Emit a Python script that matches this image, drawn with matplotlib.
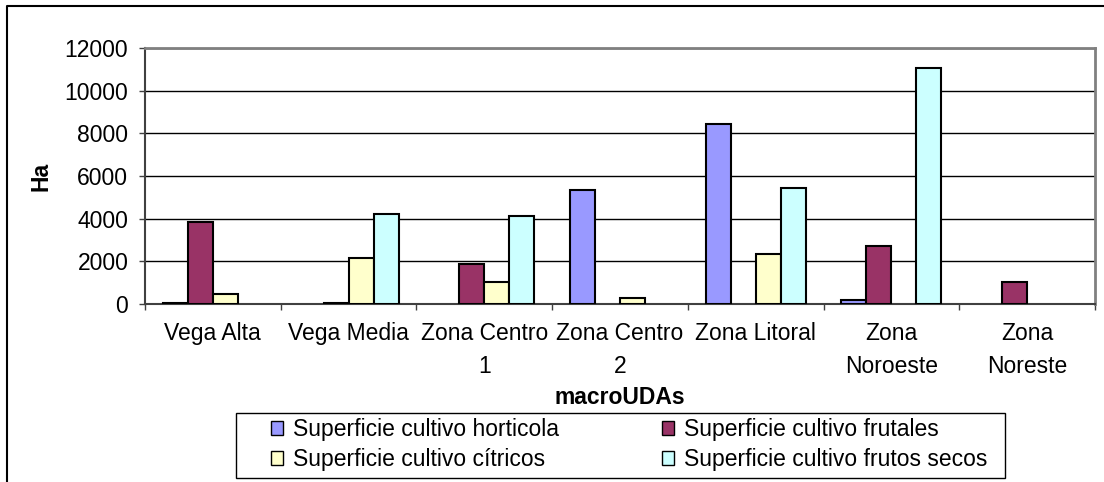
import numpy as np
import matplotlib
matplotlib.use("Agg")
import matplotlib.pyplot as plt
from matplotlib.lines import Line2D
from matplotlib.patches import Rectangle

plt.rcParams['font.family'] = ['Liberation Sans', 'DejaVu Sans']

# data
categories = ["Vega Alta", "Vega Media", "Zona Centro\n1", "Zona Centro\n2",
              "Zona Litoral", "Zona\nNoroeste", "Zona\nNoreste"]
horticola = [60, 0, 0, 5350, 8450, 190, 0]
frutales = [3850, 60, 1870, 0, 0, 2710, 1020]
citricos = [450, 2150, 1020, 300, 2330, 0, 0]
frutos_secos = [0, 4220, 4130, 0, 5450, 11080, 0]

series_names = ["Superficie cultivo horticola", "Superficie cultivo frutales",
                "Superficie cultivo cítricos", "Superficie cultivo frutos secos"]
colors = ["#9999FF", "#993366", "#FFFFCC", "#CCFFFF"]

W, H = 1104, 482
fig = plt.figure(figsize=(W / 100, H / 100), dpi=100)

# plot area in pixels: left 145, right 1095, top 48, bottom 304
ax = fig.add_axes([145 / W, 1 - 304 / H, (1095 - 145) / W, (304 - 48) / H])

fs = 16.5
bw = 0.184
offsets = (np.arange(4) - 1.5) * bw
x = np.arange(len(categories))
all_series = [horticola, frutales, citricos, frutos_secos]
bars = []
for vals, off, col, name in zip(all_series, offsets, colors, series_names):
    vals = np.asarray(vals, dtype=float)
    lw = [1.5 if v > 0 else 0 for v in vals]
    b = ax.bar(x + off, vals, bw, color=col, edgecolor="black", linewidth=lw,
               label=name, zorder=3)
    bars.append(b)

ax.set_xlim(-0.5, len(categories) - 0.5)
ax.set_ylim(0, 12000)
ax.set_yticks(np.arange(0, 12001, 2000))
ax.yaxis.grid(True, color="black", linewidth=1, zorder=0)
ax.set_axisbelow(True)

ax.set_xticks(x)
ax.set_xticklabels(categories, fontsize=fs, linespacing=1.58, va="top")
ax.set_xticks(np.arange(-0.5, len(categories)), minor=True)
ax.tick_params(axis="x", which="major", length=0, pad=13)
ax.tick_params(axis="x", which="minor", length=4, width=1, color="#404040", direction="out")
ax.tick_params(axis="y", length=4, width=1, color="#404040", direction="out",
               labelsize=fs, pad=8)

for side in ["top", "right"]:
    ax.spines[side].set_color("#808080")
    ax.spines[side].set_linewidth(2)
ax.spines["left"].set_color("#404040")
ax.spines["left"].set_linewidth(1.5)
ax.spines["bottom"].set_color("#404040")
ax.spines["bottom"].set_linewidth(1.5)

fig.text(41 / W, 1 - 176 / H, "Ha", rotation=90, fontsize=fs, fontweight="bold",
         ha="center", va="center")
fig.text(620 / W, 1 - 398 / H, "macroUDAs", fontsize=fs, fontweight="bold",
         ha="center", va="center")

# legend: frame drawn separately at the reference position
fig.add_artist(Rectangle((236 / W, 1 - 478 / H), (1005 - 236) / W, (478 - 413) / H,
                         transform=fig.transFigure, fill=False, edgecolor="black",
                         linewidth=1))
leg = fig.legend(handles=[bars[0], bars[2], bars[1], bars[3]],
                 labels=[series_names[0], series_names[2], series_names[1], series_names[3]],
                 ncol=2, loc="upper left", bbox_to_anchor=(271 / W, 1 - 418 / H),
                 frameon=False, fontsize=fs, borderpad=0, borderaxespad=0,
                 handlelength=0.53, handleheight=0.53, handletextpad=0.42,
                 labelspacing=0.3, columnspacing=4.5)
for h in leg.legend_handles:
    h.set_linewidth(1)
    h.set_edgecolor("black")

# outer chart frame (partly cropped in the reference)
fig.add_artist(Line2D([7 / W, 7 / W, 1.0], [0.0, 1 - 6 / H, 1 - 6 / H],
                      transform=fig.transFigure, color="black", linewidth=1.5))

fig.savefig("out.png", dpi=100)
